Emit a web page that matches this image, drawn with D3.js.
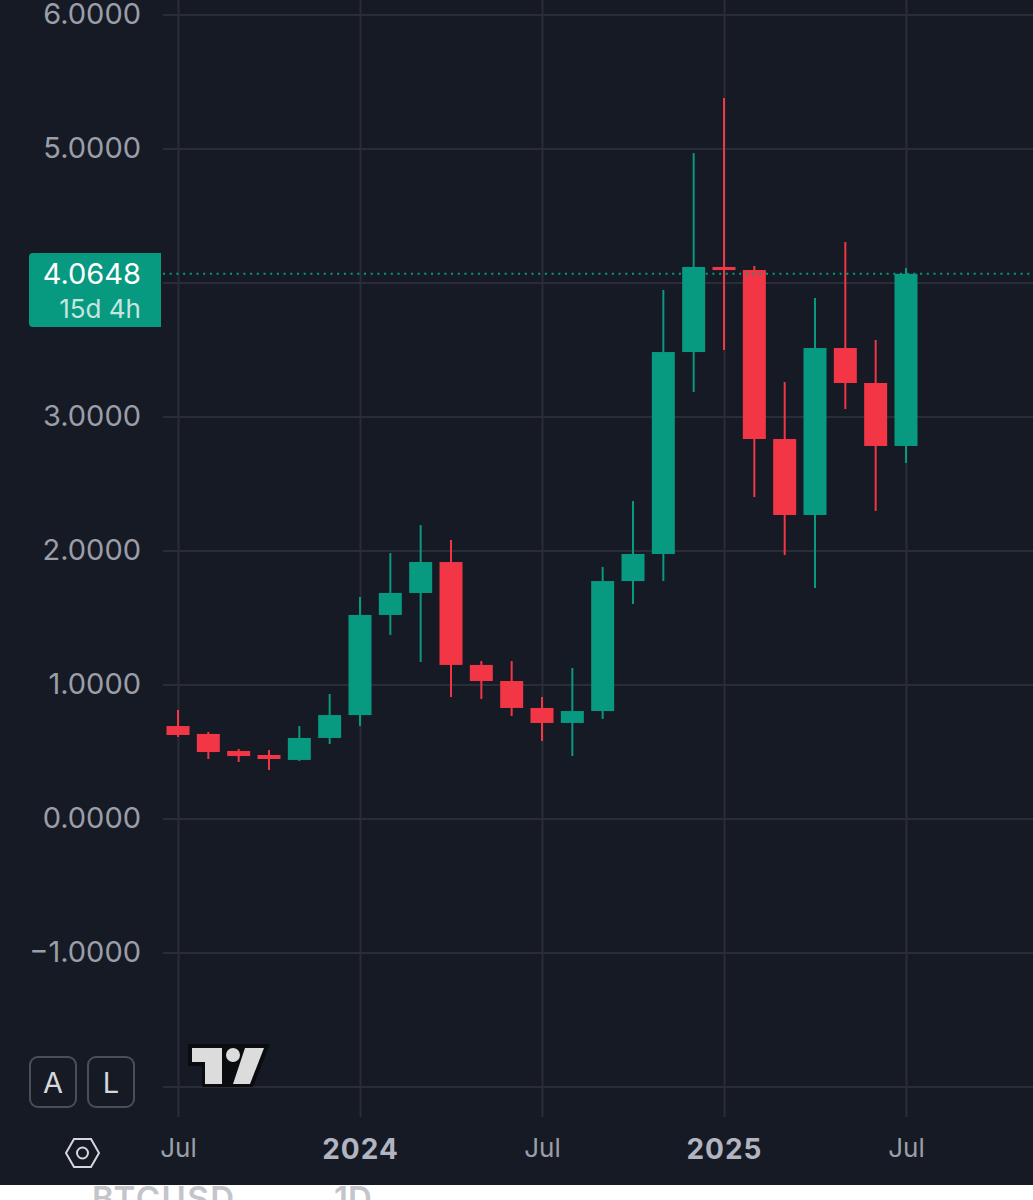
<!DOCTYPE html>
<html lang="en">

<head>
	<meta charset="utf-8">
	<title> Monthly candles </title>
	<script src="https://d3js.org/d3.v7.min.js"></script>
	<style type="text/css">
		html, body{
			margin: 0;
			background: #fff;
		}
		svg{
			display: block;
		}
		text{
			font-family: Inter, "Noto Sans", sans-serif;
		}
		.axis path{
			display: none;
		}
	</style>
</head>

<body>
	<script type="text/javascript">

	// data (one candle per month, Jul 2023 to Jul 2025)
	var months = ["2023-07","2023-08","2023-09","2023-10","2023-11","2023-12",
		"2024-01","2024-02","2024-03","2024-04","2024-05","2024-06",
		"2024-07","2024-08","2024-09","2024-10","2024-11","2024-12",
		"2025-01","2025-02","2025-03","2025-04","2025-05","2025-06","2025-07"]
	var opens = [0.690,0.631,0.504,0.474,0.437,0.601,0.772,1.519,1.683,1.914,1.146,1.026,0.825,0.713,0.802,1.772,1.974,3.481,4.116,4.093,2.832,2.265,3.511,3.250,2.780]
	var closes = [0.623,0.496,0.466,0.444,0.601,0.772,1.519,1.683,1.914,1.146,1.026,0.825,0.713,0.802,1.772,1.974,3.481,4.116,4.093,2.832,2.265,3.511,3.250,2.780,4.0648]
	var highs = [0.810,0.646,0.519,0.511,0.690,0.929,1.653,1.981,2.190,2.078,1.175,1.175,0.907,1.123,1.877,2.369,3.944,4.966,5.377,4.123,3.257,3.884,4.302,3.571,4.108]
	var lows = [0.608,0.444,0.422,0.362,0.429,0.556,0.690,1.369,1.168,0.907,0.892,0.765,0.578,0.466,0.743,1.601,1.772,3.183,3.496,2.399,1.966,1.720,3.056,2.295,2.653]

	var priceTicks = [-2,-1,0,1,2,3,4,5,6]
	var priceLabels = ["","\u22121.0000","0.0000","1.0000","2.0000","3.0000","4.0000","5.0000","6.0000"]
	var timeTicks = ["2023-07","2024-01","2024-07","2025-01","2025-07"]
	var timeLabels = ["Jul","2024","Jul","2025","Jul"]
	var lastPrice = "4.0648"
	var countdown = "15d 4h"

	// init window size
	var w = 1033;
	var h = 1200;
	var chartBottom = 1185;

	var bg = "#161a25"
	var gridColor = "#2a2d38"
	var upColor = "#089981"
	var downColor = "#f23645"
	var textColor = "#9b9ea8"

	// init XY scale
	var xScale = d3.scalePoint().domain(months).range([178, 906])
	var yScale = d3.scaleLinear().domain([0, 5]).range([818.5, 148.5])

	// init svg
	var svg = d3.select("body")
				.append("svg")
				.attr("width", w)
				.attr("height", h)

	// white strip below the screenshot, with the cut off caption
	svg.append("text").attr("x", 92).attr("y", 1210)
		.attr("fill", "#c4c5ca").attr("font-size", 33).attr("font-weight", 600)
		.attr("letter-spacing", 1.5).text("BTCUSD")
	svg.append("text").attr("x", 334).attr("y", 1210)
		.attr("fill", "#c4c5ca").attr("font-size", 33).attr("font-weight", 600)
		.text("1D")

	svg.append("rect")
		.attr("width", w)
		.attr("height", chartBottom)
		.attr("fill", bg)

	// vertical grid + time labels
	var xAxis = d3.axisBottom(xScale)
		.tickValues(timeTicks)
		.tickSize(1117)
		.tickPadding(22)
		.tickFormat((d, i) => timeLabels[i])

	var gx = svg.append("g").attr("class", "axis").call(xAxis)
	gx.selectAll("line").attr("stroke", gridColor).attr("stroke-width", 2)
	gx.selectAll("text")
		.attr("fill", (d, i) => i % 2 ? "#b2b5c0" : textColor)
		.attr("font-size", (d, i) => i % 2 ? 28 : 26)
		.attr("font-weight", (d, i) => i % 2 ? 700 : 400)
		.attr("letter-spacing", (d, i) => i % 2 ? 1 : 0)
		.attr("font-family", "Inter, sans-serif")

	// horizontal grid + price labels
	var yAxis = d3.axisRight(yScale)
		.tickValues(priceTicks)
		.tickSize(870)
		.tickFormat((d, i) => priceLabels[i])

	var gy = svg.append("g").attr("class", "axis").attr("transform", "translate(163,0)").call(yAxis)
	gy.selectAll("line").attr("stroke", gridColor).attr("stroke-width", 2)
	gy.selectAll("text")
		.attr("x", -22)
		.attr("text-anchor", "end")
		.attr("fill", textColor)
		.attr("font-size", 29)
		.attr("font-family", "Inter, sans-serif")

	// candles
	var candles = months.map((m, i) => ({
		month: m, open: opens[i], close: closes[i], high: highs[i], low: lows[i]
	}))
	var bodyWidth = 23
	var candleColor = d => d.close >= d.open ? upColor : downColor

	var candle = svg.append("g").selectAll("g")
		.data(candles)
		.enter()
		.append("g")

	candle.append("line")
		.attr("x1", d => xScale(d.month))
		.attr("x2", d => xScale(d.month))
		.attr("y1", d => yScale(d.high))
		.attr("y2", d => yScale(d.low))
		.attr("stroke", candleColor)
		.attr("stroke-width", 2)

	candle.append("rect")
		.attr("x", d => xScale(d.month) - bodyWidth / 2)
		.attr("y", d => yScale(Math.max(d.open, d.close)))
		.attr("width", bodyWidth)
		.attr("height", d => Math.abs(yScale(d.open) - yScale(d.close)))
		.attr("fill", candleColor)

	// last price line and label
	var lastY = yScale(+lastPrice)
	svg.append("line")
		.attr("x1", 163).attr("x2", w)
		.attr("y1", lastY).attr("y2", lastY)
		.attr("stroke", upColor)
		.attr("stroke-width", 2)
		.attr("stroke-dasharray", "2 4.7")

	svg.append("path")
		.attr("d", "M161,253H33a4,4 0 0 0 -4,4V323a4,4 0 0 0 4,4H161Z")
		.attr("fill", upColor)
	svg.append("text").attr("x", 141).attr("y", 284)
		.attr("text-anchor", "end").attr("fill", "#fff").attr("font-size", 29)
		.text(lastPrice)
	svg.append("text").attr("x", 141).attr("y", 318)
		.attr("text-anchor", "end").attr("fill", "#c4e6df").attr("font-size", 26)
		.text(countdown)

	// A / L buttons
	var buttons = svg.append("g").selectAll("g")
		.data(["A", "L"])
		.enter()
		.append("g")
		.attr("transform", (d, i) => "translate(" + (29 + i * 58) + ",1056)")
	buttons.append("rect")
		.attr("x", 1).attr("y", 1).attr("width", 46).attr("height", 50).attr("rx", 8)
		.attr("fill", "none").attr("stroke", "#4c4e56").attr("stroke-width", 2)
	buttons.append("text")
		.attr("x", 24).attr("y", 37)
		.attr("text-anchor", "middle").attr("fill", "#d6d7db").attr("font-size", 29)
		.text(d => d)

	// settings icon
	svg.append("path")
		.attr("d", "M66,1153L74,1139H91L99,1153L91,1167H74Z")
		.attr("fill", "none").attr("stroke", "#d6d7db").attr("stroke-width", 2)
	svg.append("circle")
		.attr("cx", 82.5).attr("cy", 1153).attr("r", 5.5)
		.attr("fill", "none").attr("stroke", "#d6d7db").attr("stroke-width", 2)

	// logo
	var logo = svg.append("g")
	logo.append("path")
		.attr("d", "M188,1044H270L253,1087H202V1066H188Z")
		.attr("fill", "#0b0c10")
	logo.append("path")
		.attr("d", "M192,1048H222V1084H205V1062H192Z")
		.attr("fill", "#dcdcdc")
	logo.append("circle")
		.attr("cx", 233).attr("cy", 1055).attr("r", 7)
		.attr("fill", "#dcdcdc")
	logo.append("path")
		.attr("d", "M245,1048H264L250,1084H233Z")
		.attr("fill", "#dcdcdc")

	</script>
</body>
</html>
